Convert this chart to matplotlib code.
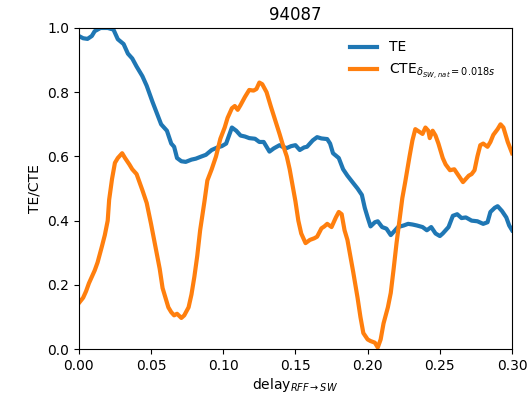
import matplotlib
matplotlib.use('Agg')
import matplotlib.pyplot as plt

# TE curve
te_x = [0.000, 0.003, 0.006, 0.009, 0.011, 0.015, 0.020, 0.024, 0.027, 0.031, 0.034, 0.037,
        0.040, 0.044, 0.047, 0.051, 0.054, 0.057, 0.061, 0.064, 0.066, 0.068, 0.071, 0.074,
        0.078, 0.081, 0.085, 0.088, 0.092, 0.096, 0.099, 0.102, 0.106, 0.109, 0.112, 0.115,
        0.118, 0.122, 0.125, 0.128, 0.132, 0.135, 0.139, 0.141, 0.144, 0.147, 0.150, 0.153,
        0.156, 0.158, 0.162, 0.165, 0.168, 0.172, 0.174, 0.176, 0.180, 0.183, 0.186, 0.190,
        0.193, 0.196, 0.198, 0.200, 0.202, 0.205, 0.207, 0.210, 0.213, 0.216, 0.219, 0.221,
        0.225, 0.228, 0.231, 0.234, 0.238, 0.241, 0.244, 0.247, 0.250, 0.252, 0.256, 0.259,
        0.262, 0.265, 0.268, 0.272, 0.276, 0.280, 0.283, 0.285, 0.288, 0.290, 0.293, 0.296,
        0.298, 0.300]
te_y = [0.975, 0.968, 0.966, 0.975, 0.990, 1.000, 1.000, 0.995, 0.965, 0.950, 0.920, 0.905,
        0.880, 0.850, 0.820, 0.770, 0.735, 0.700, 0.680, 0.640, 0.630, 0.595, 0.585, 0.583,
        0.590, 0.593, 0.600, 0.605, 0.620, 0.628, 0.632, 0.640, 0.690, 0.680, 0.665, 0.662,
        0.657, 0.655, 0.645, 0.645, 0.615, 0.625, 0.635, 0.630, 0.626, 0.632, 0.635, 0.620,
        0.628, 0.630, 0.650, 0.660, 0.656, 0.654, 0.640, 0.610, 0.595, 0.560, 0.540, 0.517,
        0.500, 0.480, 0.440, 0.410, 0.382, 0.395, 0.398, 0.380, 0.375, 0.355, 0.370, 0.380,
        0.385, 0.390, 0.388, 0.385, 0.380, 0.370, 0.380, 0.360, 0.352, 0.360, 0.380, 0.415,
        0.420, 0.408, 0.410, 0.400, 0.398, 0.390, 0.395, 0.427, 0.440, 0.445, 0.430, 0.410,
        0.385, 0.370]

# CTE curve
cte_x = [0.000, 0.003, 0.005, 0.007, 0.009, 0.011, 0.013, 0.016, 0.018, 0.020, 0.021, 0.023,
         0.025, 0.027, 0.030, 0.032, 0.035, 0.037, 0.040, 0.042, 0.044, 0.047, 0.050, 0.053,
         0.056, 0.058, 0.060, 0.062, 0.064, 0.066, 0.068, 0.071, 0.073, 0.076, 0.078, 0.080,
         0.082, 0.084, 0.087, 0.089, 0.092, 0.095, 0.098, 0.101, 0.103, 0.106, 0.108, 0.110,
         0.112, 0.115, 0.118, 0.121, 0.123, 0.125, 0.127, 0.130, 0.133, 0.136, 0.139, 0.141,
         0.144, 0.146, 0.148, 0.150, 0.152, 0.154, 0.157, 0.160, 0.163, 0.165, 0.168, 0.170,
         0.172, 0.175, 0.178, 0.180, 0.182, 0.184, 0.186, 0.188, 0.190, 0.193, 0.195, 0.197,
         0.200, 0.202, 0.205, 0.207, 0.209, 0.211, 0.214, 0.216, 0.218, 0.220, 0.222, 0.224,
         0.226, 0.229, 0.231, 0.233, 0.236, 0.238, 0.240, 0.242, 0.243, 0.245, 0.247, 0.249,
         0.252, 0.254, 0.257, 0.260, 0.263, 0.266, 0.268, 0.270, 0.272, 0.274, 0.276, 0.278,
         0.280, 0.283, 0.285, 0.287, 0.290, 0.292, 0.294, 0.297, 0.300]
cte_y = [0.143, 0.160, 0.180, 0.205, 0.225, 0.245, 0.270, 0.320, 0.355, 0.400, 0.465, 0.530,
         0.580, 0.595, 0.610, 0.595, 0.575, 0.560, 0.545, 0.520, 0.495, 0.455, 0.390, 0.320,
         0.250, 0.190, 0.160, 0.130, 0.115, 0.105, 0.110, 0.097, 0.105, 0.130, 0.170, 0.225,
         0.290, 0.370, 0.460, 0.525, 0.560, 0.600, 0.655, 0.690, 0.720, 0.750, 0.757, 0.745,
         0.760, 0.785, 0.807, 0.805, 0.810, 0.830, 0.825, 0.800, 0.755, 0.713, 0.670, 0.640,
         0.600, 0.560, 0.510, 0.460, 0.400, 0.360, 0.330, 0.340, 0.345, 0.350, 0.376, 0.382,
         0.390, 0.380, 0.410, 0.427, 0.420, 0.370, 0.340, 0.290, 0.240, 0.160, 0.100, 0.050,
         0.030, 0.025, 0.020, 0.005, 0.030, 0.080, 0.130, 0.175, 0.250, 0.330, 0.400, 0.470,
         0.520, 0.600, 0.650, 0.685, 0.676, 0.670, 0.690, 0.680, 0.657, 0.680, 0.665, 0.640,
         0.595, 0.575, 0.557, 0.560, 0.540, 0.520, 0.530, 0.540, 0.545, 0.557, 0.600, 0.635,
         0.640, 0.630, 0.645, 0.667, 0.685, 0.700, 0.690, 0.645, 0.610]

fig = plt.figure(figsize=(5.29, 3.94), dpi=100)
ax = fig.add_axes([0.149, 0.114, 0.819, 0.815])

ax.plot(te_x, te_y, color='#1f77b4', linewidth=3, label='TE')
ax.plot(cte_x, cte_y, color='#ff7f0e', linewidth=3,
        label=r'CTE$_{\delta_{SW,\,nat}=0.018s}$')

ax.set_xlim(0, 0.30)
ax.set_ylim(0, 1.0)
ax.set_title('94087', fontsize=12)
ax.set_xlabel(r'delay$_{RFF\rightarrow SW}$', labelpad=2)
ax.set_ylabel('TE/CTE')
ax.legend(loc='upper right', frameon=False, bbox_to_anchor=(0.99, 1.0))

fig.savefig('out.png', dpi=100)
